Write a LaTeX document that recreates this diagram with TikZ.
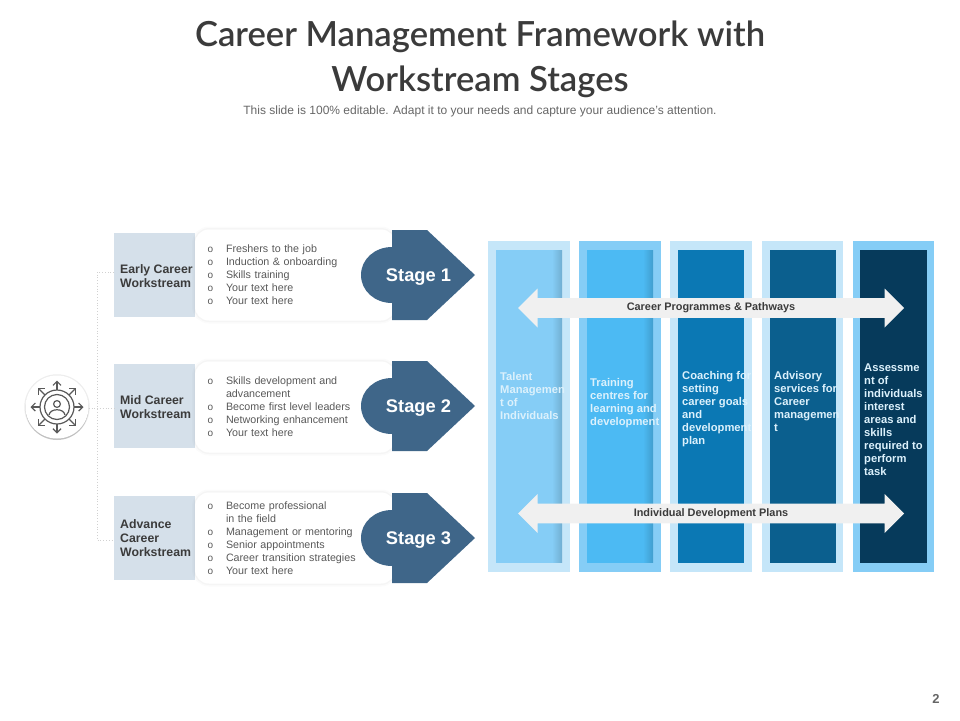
\documentclass[tikz,border=0pt]{standalone}
\usepackage{fontspec}
\setmainfont{Liberation Sans}
\newfontfamily\titlefont{Lato Semibold}
\usetikzlibrary{arrows.meta,positioning,shapes.arrows,shadows}
\definecolor{titlegrey}{HTML}{3B3B3B}
\definecolor{subgrey}{HTML}{666666}
\definecolor{listgrey}{HTML}{595959}
\definecolor{streamfill}{HTML}{D5E0EA}
\definecolor{stageblue}{HTML}{3F6689}
\definecolor{paleframe}{HTML}{C5E6F9}
\definecolor{midframe}{HTML}{85CDF6}
\definecolor{skybody}{HTML}{4CBAF3}
\definecolor{oceanbody}{HTML}{0B78B4}
\definecolor{deepbody}{HTML}{0B5F8E}
\definecolor{navybody}{HTML}{063A5B}
\definecolor{bandgrey}{HTML}{F0F0F0}
\definecolor{coltxt}{HTML}{DCF1FC}
\newcommand{\litem}[1]{\makebox[19pt][l]{\hspace*{0.5pt}\fontsize{10}{13}\selectfont o}#1}
\newcommand{\lcont}[1]{\hspace*{19pt}#1}

\begin{document}
\begin{tikzpicture}[
    x=1pt, y=-1pt,
    stream/.style={fill=streamfill, rectangle, outer sep=0pt, minimum height=84pt, minimum width=81pt, inner sep=0pt},
    streamlabel/.style={anchor=west, inner sep=0pt, align=left, text=titlegrey, font=\fontsize{12.3}{14}\selectfont\bfseries},
    card/.style={fill=white, rectangle, rounded corners=14pt, outer sep=0pt, minimum height=91pt, minimum width=200pt, text width=176pt, inner xsep=12pt, inner ysep=0pt, align=left, text=listgrey, font=\fontsize{10.7}{13}\selectfont,
      preaction={draw=black, opacity=0.015, line width=6pt}, preaction={draw=black, opacity=0.025, line width=3pt}},
    stagelabel/.style={text=white, inner sep=0pt, font=\fontsize{18.3}{22}\selectfont\bfseries},
    frame/.style={rectangle, outer sep=0pt, minimum height=331pt},
    body/.style={rectangle, outer sep=0pt, minimum height=313pt, minimum width=66pt},
    coltext/.style={anchor=west, inner sep=0pt, align=left, text=coltxt, font=\fontsize{11.2}{13}\selectfont\bfseries},
    band/.style={double arrow, fill=bandgrey, double arrow head extend=9.5pt, minimum height=386pt, minimum width=39pt, inner xsep=0pt, inner ysep=4.5pt, outer sep=0pt, text=titlegrey, font=\fontsize{10.9}{12}\selectfont\bfseries},
    link/.style={draw=black!18, dotted, line width=0.8pt},
    iconline/.style={draw=black!65, line width=1.2pt}
]

% headings
\node[align=center, text=titlegrey, inner sep=0pt, font=\titlefont\fontsize{34.6}{45}\selectfont] (title) at (480,59) {Career Management Framework with\\Workstream Stages};
\node[text=subgrey, inner sep=0pt, font=\fontsize{12}{14}\selectfont] (subtitle) at (480,111) {This slide is 100\% editable. Adapt it to your needs and capture your audience's attention.};
\node[text=subgrey, inner sep=0pt, font=\fontsize{13}{15}\selectfont\bfseries] (pagenum) at (936,699) {2};

% left side
\node[stream] (early) at (154.5,275) {};
\node[stream, below=47pt of early] (mid) {};
\node[stream, below=48pt of mid] (advance) {};
\node[streamlabel] (earlylabel) at ([xshift=6pt,yshift=-1pt]early.west) {Early Career\\Workstream};
\node[streamlabel] (midlabel) at ([xshift=6pt,yshift=-1.5pt]mid.west) {Mid Career\\Workstream};
\node[streamlabel] (advancelabel) at ([xshift=6pt]advance.west) {Advance\\Career\\Workstream};

\node[card] (earlycard) at (295,275) {\litem{Freshers to the job}\\\litem{Induction \& onboarding}\\\litem{Skills training}\\\litem{Your text here}\\\litem{Your text here}};
\node[card, below=41pt of earlycard] (midcard) {\litem{Skills development and}\\\lcont{advancement}\\\litem{Become first level leaders}\\\litem{Networking enhancement}\\\litem{Your text here}};
\node[card, below=40pt of midcard] (advancecard) {\litem{Become professional}\\\lcont{in the field}\\\litem{Management or mentoring}\\\litem{Senior appointments}\\\litem{Career transition strategies}\\\litem{Your text here}};

\foreach \n/\y/\t in {earlystage/275/Stage 1, midstage/406/Stage 2, advancestage/538/Stage 3} {
  \fill[stageblue] (392,\y-45) -- (427,\y-45) -- (475,\y) -- (427,\y+45) -- (392,\y+45) -- (392,\y+28)
    .. controls (375,\y+28) and (361,\y+16) .. (361,\y) .. controls (361,\y-16) and (375,\y-28) .. (392,\y-28) -- cycle;
  \node[stagelabel] (\n) at (418.5,\y+2) {\t};
}

% icon and its links
\node[circle, fill=white, minimum size=63pt, inner sep=0pt, preaction={draw=black, opacity=0.07, line width=2.5pt}, drop shadow={shadow xshift=0pt, shadow yshift=-1.5pt, opacity=0.4}] (icon) at (57,407) {};
\coordinate (trunktop) at (97,272);
\coordinate (trunkmid) at (97,408);
\coordinate (trunkend) at (97,540);
\draw[link] (early.west |- trunktop) -- (trunktop) -- (trunkend) -- (advance.west |- trunkend);
\draw[link] (icon.east |- trunkmid) -- (mid.west |- trunkmid);

\draw[iconline] (icon.center) circle (17);
\draw[iconline] (icon.center) circle (12.5);
\draw[iconline] (57,404) circle (3.4);
\draw[iconline] (49,415) .. controls (50,408) and (64,408) .. (65,415);
\foreach \a in {0,45,...,315} {
  \draw[iconline, -{Straight Barb[length=4pt,width=8pt]}] ([shift={(\a:17)}]icon.center) -- ([shift={(\a:26.5)}]icon.center);
}

% columns
\node[frame, fill=paleframe, minimum width=82pt] (talentframe) at (529,406.5) {};
\node[frame, fill=midframe, minimum width=82pt, right=9pt of talentframe] (trainingframe) {};
\node[frame, fill=paleframe, minimum width=82pt, right=9pt of trainingframe] (coachingframe) {};
\node[frame, fill=paleframe, minimum width=81pt, right=10pt of coachingframe] (advisoryframe) {};
\node[frame, fill=midframe, minimum width=81pt, right=10pt of advisoryframe] (assessframe) {};

\node[body, fill=midframe] (talent) at (talentframe) {};
\node[body, fill=skybody] (training) at (trainingframe) {};
\node[body, fill=oceanbody] (coaching) at (coachingframe) {};
\node[body, fill=deepbody] (advisory) at (advisoryframe) {};
\node[body, fill=navybody, minimum width=67pt] (assess) at (assessframe) {};

\shade[left color=midframe, right color=midframe!85!black] ([xshift=-10pt]talent.north east) rectangle ([yshift=0.5pt]talent.south east);
\shade[left color=skybody, right color=skybody!85!black] ([xshift=-10pt]training.north east) rectangle ([yshift=0.5pt]training.south east);

\node[coltext] (talentlabel) at (500,395.5) {Talent\\Managemen\\t of\\Individuals};
\node[coltext] (traininglabel) at (590,403.5) {Training\\centres for\\learning and\\development};
\node[coltext] (coachinglabel) at (682,409) {Coaching for\\setting\\career goals\\and\\development\\plan};
\node[coltext] (advisorylabel) at (774,401) {Advisory\\services for\\Career\\managemen\\t};
\node[coltext] (assesslabel) at (864,419.5) {Assessme\\nt of\\individuals\\interest\\areas and\\skills\\required to\\perform\\task};

% bands
\node[band] (pathways) at (711,308) {Career Programmes \& Pathways};
\node[band] (plans) at (711,513.5) {Individual Development Plans};

\useasboundingbox (0,0) rectangle (960,720);
\end{tikzpicture}
\end{document}
